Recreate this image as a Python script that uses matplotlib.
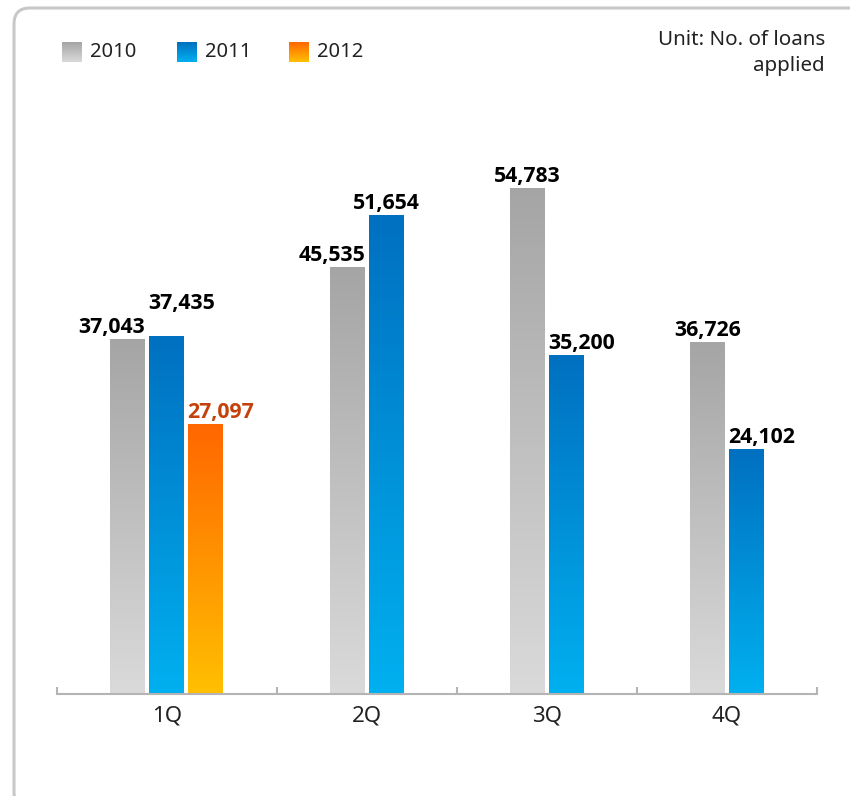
import matplotlib.pyplot as plt
import numpy as np
from matplotlib.colors import LinearSegmentedColormap
from matplotlib.patches import FancyBboxPatch

plt.rcParams['font.family'] = ['Noto Sans', 'DejaVu Sans']

# data
quarters = ['1Q', '2Q', '3Q', '4Q']
years = ['2010', '2011', '2012']
loans_2010 = [37043, 45535, 54783, 36726]
loans_2011 = [37435, 51654, 35200, 24102]
loans_2012 = [27097]
series = [loans_2010, loans_2011, loans_2012]

# gradient colours (top, bottom) per year
grads = [('#a5a5a5', '#dadada'), ('#0070c0', '#00b0f0'), ('#ff6600', '#ffc000')]
label_colors = ['black', 'black', '#c4410c']
# label alignment per year / quarter
label_align = [['right', 'right', 'center', 'center'],
               ['left', 'center', 'left', 'left'],
               ['left']]
# extra lift (points) for labels that would collide
label_lift = [[0, 0, 0, 0],
              [15, 0, 0, 0],
              [0]]

# layout: category edges (first group is wider), bar geometry
edges = [0, 220, 400, 580, 760]
bar_offset = 53
bar_w = 35
bar_step = 39
ymin, ymax = -4585, 65240

fig = plt.figure(figsize=(8.5, 7.96), dpi=100)

# background overlay in pixel coordinates
bg = fig.add_axes([0, 0, 1, 1])
bg.set_xlim(0, 850)
bg.set_ylim(796, 0)
bg.axis('off')
bg.add_patch(FancyBboxPatch((14, 8), 850, 800, boxstyle='round,pad=0,rounding_size=16',
                            fc='white', ec='#c8c8c8', lw=2.2))

grad = np.linspace(0, 1, 256).reshape(-1, 1)
cmaps = [LinearSegmentedColormap.from_list('g%d' % i, [t, b]) for i, (t, b) in enumerate(grads)]

# legend
leg_x = [62, 177, 289]
for i, yr in enumerate(years):
    bg.imshow(grad, cmap=cmaps[i], extent=(leg_x[i], leg_x[i] + 20, 62, 42), aspect='auto', zorder=3)
    bg.text(leg_x[i] + 28, 52, yr, fontsize=14.5, va='center', ha='left', color='#222222')

bg.text(825, 40, 'Unit: No. of loans', fontsize=14.8, ha='right', va='center', color='#222222')
bg.text(825, 66, 'applied', fontsize=14.8, ha='right', va='center', color='#222222')

# main axes
ax = fig.add_axes([57 / 850, 1 - 694 / 796, 760 / 850, 594 / 796])
ax.patch.set_alpha(0)

for i, vals in enumerate(series):
    xs = [edges[q] + bar_offset + i * bar_step for q in range(len(vals))]
    heights = [v - ymin for v in vals]
    bars = ax.bar(xs, heights, width=bar_w, bottom=ymin, align='edge', color='none', lw=0)
    for q, (b, v) in enumerate(zip(bars, vals)):
        x0, x1 = b.get_x(), b.get_x() + b.get_width()
        ax.imshow(grad, cmap=cmaps[i], extent=(x0, x1, ymin, v), aspect='auto', zorder=2)
        ha = label_align[i][q]
        if ha == 'right':
            tx = x1
        elif ha == 'left':
            tx = x0 - 1
        else:
            tx = (x0 + x1) / 2
        ax.annotate(f'{v:,}', (tx, v), xytext=(0, 5 + label_lift[i][q]), textcoords='offset points',
                    ha=ha, va='baseline', fontsize=15.3, fontweight='bold',
                    family=['Open Sans', 'DejaVu Sans'], color=label_colors[i])

ax.set_xlim(0, 760)
ax.set_ylim(ymin, ymax)

for s in ['top', 'right', 'left']:
    ax.spines[s].set_visible(False)
ax.spines['bottom'].set_color('#b4b4b4')
ax.spines['bottom'].set_linewidth(1.5)
ax.set_yticks([])

ax.set_xticks(edges)
ax.set_xticklabels([])
ax.tick_params(axis='x', which='major', direction='in', length=5, width=1.5, color='#b4b4b4')
centers = [(edges[i] + edges[i + 1]) / 2 for i in range(4)]
ax.set_xticks(centers, minor=True)
ax.set_xticklabels(quarters, minor=True, fontsize=16, color='#222222')
ax.tick_params(axis='x', which='minor', length=0, pad=8)

fig.savefig('out.png', dpi=100)
